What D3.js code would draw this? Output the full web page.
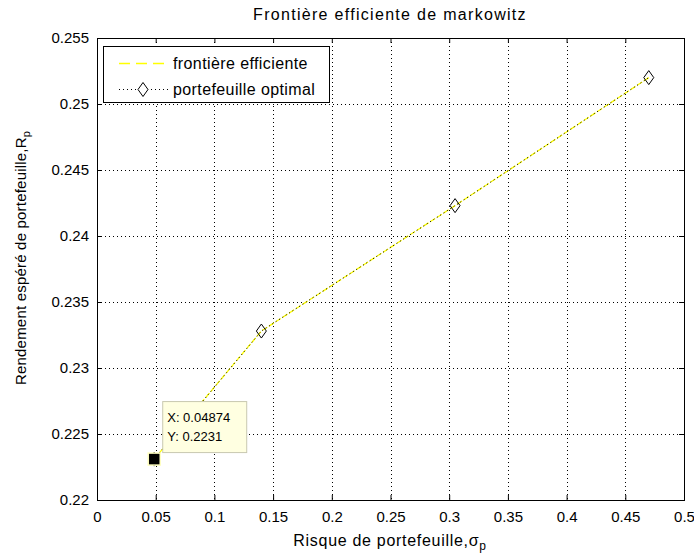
<!doctype html>
<html>
<head>
<style>
  body { margin: 0; background: #fff; }
  text { font-family: "Liberation Sans", Arial, sans-serif; }
  .tick text { font-size: 15px; }
  .dtip { font-size: 13px; }
</style>
<script src="https://d3js.org/d3.v7.min.js"></script>
</head>
<body>
<svg width="694" height="556"></svg>
<script>
// frontière efficiente (risk, return)
var risque = [0.04874, 0.14, 0.305, 0.47];
var rendement = [0.2231, 0.2328, 0.2423, 0.2520];
// portefeuilles optimaux
var optRisque = [0.04874, 0.14, 0.305, 0.47];
var optRendement = [0.2231, 0.2328, 0.2423, 0.2520];
// datatip
var tipX = 0.04874, tipY = 0.2231;
var xTicks = [0, 0.05, 0.1, 0.15, 0.2, 0.25, 0.3, 0.35, 0.4, 0.45, 0.5];
var yTicks = [0.22, 0.225, 0.23, 0.235, 0.24, 0.245, 0.25, 0.255];

var svg = d3.select("svg");
var pL = 97, pR = 684, pT = 38, pB = 500;

var x = d3.scaleLinear().domain([0, 0.5]).range([pL, pR]);
var y = d3.scaleLinear().domain([0.22, 0.255]).range([pB, pT]);

// grid
var grid = svg.append("g");
grid.selectAll(".gx").data(xTicks.slice(1, -1)).enter().append("line")
   .attr("x1", d => Math.round(x(d)) + 0.5).attr("x2", d => Math.round(x(d)) + 0.5)
   .attr("y1", pT).attr("y2", pB)
   .attr("stroke", "#000").attr("stroke-dasharray", "1,3");
grid.selectAll(".gy").data(yTicks.slice(1, -1)).enter().append("line")
   .attr("y1", d => Math.round(y(d)) + 0.5).attr("y2", d => Math.round(y(d)) + 0.5)
   .attr("x1", pL).attr("x2", pR)
   .attr("stroke", "#000").attr("stroke-dasharray", "1,3");

// axes (ticks inward)
var fmt = d => String(+d.toFixed(3));
svg.append("g").attr("transform", "translate(0," + pB + ")")
   .call(d3.axisBottom(x).tickValues(xTicks).tickSizeInner(-5).tickSizeOuter(0).tickPadding(11).tickFormat(fmt))
   .call(g => g.select(".domain").remove());
svg.append("g").attr("transform", "translate(0," + pT + ")")
   .call(d3.axisTop(x).tickValues(xTicks).tickSizeInner(-5).tickSizeOuter(0).tickFormat(""))
   .call(g => g.select(".domain").remove());
svg.append("g").attr("transform", "translate(" + pL + ",0)")
   .call(d3.axisLeft(y).tickValues(yTicks).tickSizeInner(-5).tickSizeOuter(0).tickPadding(8).tickFormat(fmt))
   .call(g => g.select(".domain").remove());
svg.append("g").attr("transform", "translate(" + pR + ",0)")
   .call(d3.axisRight(y).tickValues(yTicks).tickSizeInner(-5).tickSizeOuter(0).tickFormat(""))
   .call(g => g.select(".domain").remove());
svg.selectAll(".tick text").attr("fill", "#000");
svg.selectAll(".tick line").attr("stroke", "#000");

svg.append("rect").attr("x", pL + 0.5).attr("y", pT + 0.5)
   .attr("width", pR - pL).attr("height", pB - pT)
   .attr("fill", "none").attr("stroke", "#000");

// lines
var front = risque.map((r, i) => [r, rendement[i]]);
var opt = optRisque.map((r, i) => [r, optRendement[i]]);
var line = d3.line().x(d => x(d[0])).y(d => y(d[1]));
svg.append("path").datum(front).attr("d", line)
   .attr("fill", "none").attr("stroke", "#ffff00").attr("stroke-width", 1.3).attr("stroke-dasharray", "6,2");
svg.append("path").datum(opt).attr("d", line)
   .attr("fill", "none").attr("stroke", "#000").attr("stroke-dasharray", "1,3");

var diamond = "M0,-7L5,0L0,7L-5,0Z";
svg.selectAll(".dia").data(opt).enter().append("path")
   .attr("transform", d => "translate(" + x(d[0]) + "," + y(d[1]) + ")")
   .attr("d", diamond).attr("fill", "none").attr("stroke", "#000");

// datatip
var tx = x(tipX), ty = y(tipY);
svg.append("rect").attr("x", tx - 6).attr("y", ty - 6).attr("width", 12).attr("height", 12)
   .attr("fill", "#000").attr("stroke", "#ffffc0").attr("stroke-width", 1.5);
svg.append("rect").attr("x", tx + 8.5).attr("y", ty - 57.5).attr("width", 84).attr("height", 51)
   .attr("fill", "#ffffe1").attr("stroke", "#c8c8b0");
svg.append("text").attr("class", "dtip").attr("x", tx + 13).attr("y", ty - 37).text("X: " + tipX);
svg.append("text").attr("class", "dtip").attr("x", tx + 13).attr("y", ty - 18).text("Y: " + tipY);

// legend
var lg = svg.append("g");
lg.append("rect").attr("x", 103.5).attr("y", 46.5).attr("width", 226).attr("height", 56)
  .attr("fill", "#fff").attr("stroke", "#000");
lg.append("line").attr("x1", 119).attr("x2", 169).attr("y1", 63.5).attr("y2", 63.5)
  .attr("stroke", "#ffff00").attr("stroke-width", 1.3).attr("stroke-dasharray", "11,6");
lg.append("line").attr("x1", 119).attr("x2", 169).attr("y1", 89.5).attr("y2", 89.5)
  .attr("stroke", "#000").attr("stroke-dasharray", "1,3");
lg.append("path").attr("transform", "translate(143,89.5)").attr("d", diamond)
  .attr("fill", "#fff").attr("stroke", "#000");
lg.append("text").attr("x", 173).attr("y", 69).attr("font-size", 16).attr("letter-spacing", 0.4).text("frontière efficiente");
lg.append("text").attr("x", 173).attr("y", 95).attr("font-size", 16).attr("letter-spacing", 0.4).text("portefeuille optimal");

// title & labels
svg.append("text").attr("x", 390).attr("y", 20).attr("text-anchor", "middle")
   .attr("font-size", 16).attr("letter-spacing", 1.3).text("Frontière efficiente de markowitz");
var xl = svg.append("text").attr("x", 390).attr("y", 546).attr("text-anchor", "middle")
   .attr("font-size", 16).attr("letter-spacing", 0.7);
xl.append("tspan").text("Risque de portefeuille,σ");
xl.append("tspan").attr("dy", 4).attr("font-size", 12).text("p");
var yl = svg.append("text").attr("transform", "translate(26,258) rotate(-90)")
   .attr("text-anchor", "middle").attr("font-size", 15).attr("letter-spacing", 0.2);
yl.append("tspan").text("Rendement espéré de portefeuille,R");
yl.append("tspan").attr("dy", 4).attr("font-size", 11).text("p");
</script>
</body>
</html>
